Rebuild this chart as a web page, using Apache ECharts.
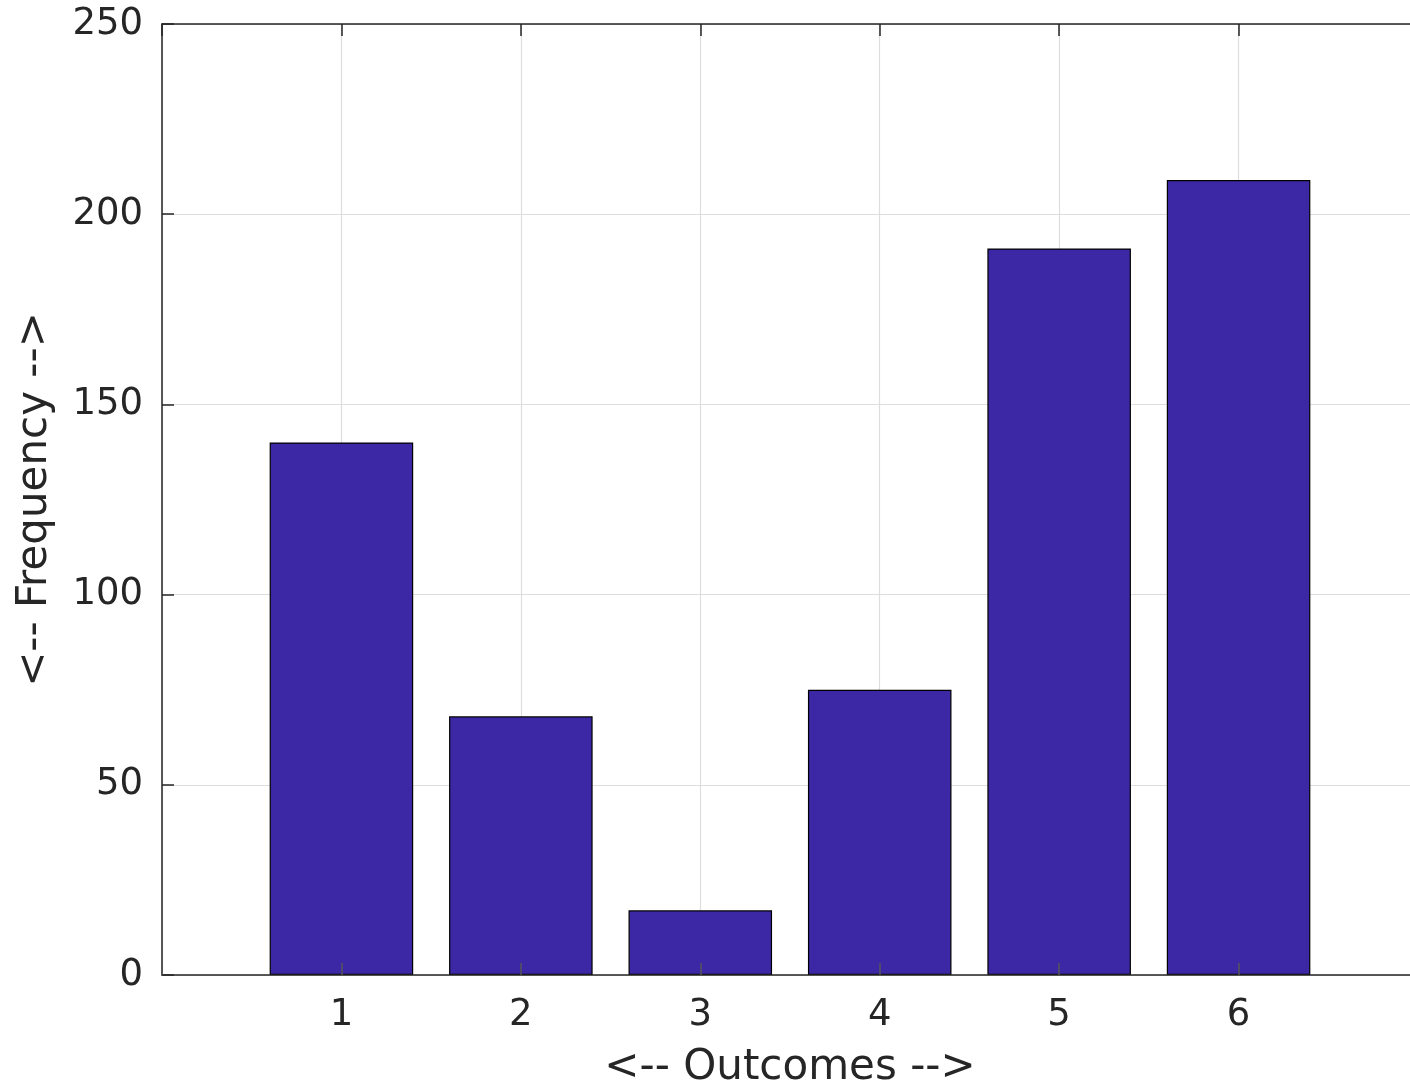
<!DOCTYPE html>
<html>
<head>
<meta charset="utf-8">
<script src="https://cdn.jsdelivr.net/npm/echarts@6/dist/echarts.min.js"></script>
<style>
html,body{margin:0;padding:0;background:#fff;}
#chart{width:1410px;height:1087px;}
</style>
</head>
<body>
<div id="chart"></div>
<script>
const outcomes = [1, 2, 3, 4, 5, 6];
const frequency = [140, 68, 17, 75, 191, 209];
const yTicks = [0, 50, 100, 150, 200, 250];
const xTickLabels = ['1', '2', '3', '4', '5', '6'];
const xLabel = '<-- Outcomes -->';
const yLabel = '<-- Frequency -->';

const font = 'DejaVu Sans';
const textColor = '#262626';
const axisColor = '#262626';
const gridColor = '#dedede';

const chart = echarts.init(document.getElementById('chart'), null, {renderer: 'canvas'});
const xMin = 0, xMax = 7;

const option = {
  backgroundColor: '#ffffff',
  animation: false,
  grid: {left: 162, top: 24, width: 1256, height: 951, containLabel: false, outerBoundsMode: 'none'},
  xAxis: [
    {
      type: 'value', position: 'bottom', min: xMin, max: xMax, interval: 1, z: 10,
      name: xLabel, nameLocation: 'middle', nameGap: 72,
      nameTextStyle: {fontFamily: font, fontSize: 42, color: textColor},
      axisLine: {show: true, onZero: false, lineStyle: {color: axisColor, width: 1.5}},
      axisTick: {show: true, inside: true, length: 12, lineStyle: {color: '#555555', width: 1.5}},
      axisLabel: {
        show: true, margin: 22, fontFamily: font, fontSize: 37, color: textColor,
        formatter: function (v) { const i = outcomes.indexOf(v); return i >= 0 ? xTickLabels[i] : ''; }
      },
      splitLine: {show: false}
    },
    {
      type: 'value', position: 'bottom', min: xMin, max: xMax, interval: 1, z: 0,
      axisLine: {show: false}, axisTick: {show: false}, axisLabel: {show: false},
      splitLine: {show: true, lineStyle: {color: gridColor, width: 1.2}}
    },
    {
      type: 'value', position: 'top', min: xMin, max: xMax, interval: 1, z: 10,
      axisLine: {show: true, onZero: false, lineStyle: {color: axisColor, width: 1.5}},
      axisTick: {show: true, inside: true, length: 12, lineStyle: {color: axisColor, width: 1.5}},
      axisLabel: {show: false}, splitLine: {show: false}
    }
  ],
  yAxis: [
    {
      type: 'value', position: 'left', min: yTicks[0], max: yTicks[yTicks.length - 1], interval: 50,
      name: yLabel, nameLocation: 'middle', nameGap: 106, nameRotate: 90,
      nameTextStyle: {fontFamily: font, fontSize: 42, color: textColor},
      axisLine: {show: true, onZero: false, lineStyle: {color: axisColor, width: 1.5}},
      axisTick: {show: true, inside: true, length: 12, lineStyle: {color: axisColor, width: 1.5}},
      axisLabel: {show: true, margin: 19, fontFamily: font, fontSize: 37, color: textColor},
      splitLine: {show: true, lineStyle: {color: gridColor, width: 1.2}}
    }
  ],
  series: [
    {
      type: 'bar', xAxisIndex: 0, yAxisIndex: 0,
      barWidth: '80%',
      data: outcomes.map((o, i) => [o, frequency[i]]),
      itemStyle: {color: '#3c28a5', borderColor: '#000000', borderWidth: 1.2}
    }
  ]
};
chart.setOption(option);
</script>
</body>
</html>
